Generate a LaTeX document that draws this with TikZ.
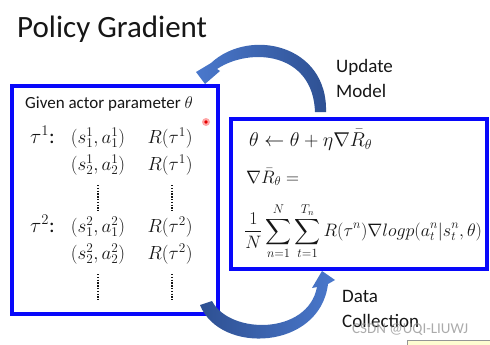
\RequirePackage{fix-cm}
\documentclass[tikz,border=0pt]{standalone}
\usepackage{amsmath,amssymb}
\usepackage[no-math]{fontspec}
\setmainfont{Carlito}
\definecolor{panelblue}{RGB}{8,8,250}
\definecolor{arrowdark}{RGB}{46,80,146}
\definecolor{arrowlight}{RGB}{74,120,204}
\definecolor{ink}{RGB}{22,22,22}
\definecolor{stampgray}{RGB}{150,150,150}
\tikzset{
  panel/.style={draw=panelblue, line width=4pt, fill=white, inner sep=0pt},
  label/.style={text=ink, font=\fontsize{19}{23}\selectfont, anchor=base west, inner sep=0pt},
  entry/.style={text=ink, font=\fontsize{19}{23}\selectfont, anchor=base, inner sep=0pt},
  dotcol/.style={ink, line width=1.8pt, dash pattern=on 1.3pt off 1.5pt},
}

\begin{document}
\begin{tikzpicture}[x=1pt, y=-1pt]
  \useasboundingbox (0,0) rectangle (490,345);
  % ===================== title =====================
  \node[label, font=\fontsize{31}{37}\selectfont] (title) at (17,38) {Policy Gradient};
  % ===================== actor box =====================
  \node[panel, minimum width=206pt, minimum height=228pt] (actor) at (115,200) {};
  \node[label, font=\fontsize{17}{20}\selectfont] (given) at (25,108) {Given actor parameter $\theta$};
  \node[entry, anchor=base west, font=\fontsize{21}{25}\selectfont] (tau1) at (30,143) {$\tau^{1}$:};
  \node[entry] (p11) at (98,143) {$(s_1^1,a_1^1)$};
  \node[entry] (r11) at (170,143) {$R(\tau^1)$};
  \node[entry] (p12) at (98,170) {$(s_2^1,a_2^1)$};
  \node[entry] (r12) at (170,170) {$R(\tau^1)$};
  \draw[dotcol] (98,185) -- (98,211);
  \draw[dotcol] (172,185) -- (172,211);
  \node[entry, anchor=base west, font=\fontsize{21}{25}\selectfont] (tau2) at (30,232) {$\tau^{2}$:};
  \node[entry] (p21) at (98,232) {$(s_1^2,a_1^2)$};
  \node[entry] (r21) at (170,232) {$R(\tau^2)$};
  \node[entry] (p22) at (98,259) {$(s_2^2,a_2^2)$};
  \node[entry] (r22) at (170,259) {$R(\tau^2)$};
  \draw[dotcol] (98,274) -- (98,300);
  \draw[dotcol] (172,274) -- (172,300);
  \fill[red!35] (206,122) circle (4pt);
  \fill[red!90!black] (206,122) circle (1.8pt);
  % ===================== update box =====================
  \node[panel, minimum width=256pt, minimum height=150pt] (update) at (359,194) {};
  \node[entry, anchor=base west, font=\fontsize{20}{24}\selectfont] (rule) at (249,146)
    {$\theta \leftarrow \theta + \eta\nabla\bar{R}_\theta$};
  \node[entry, anchor=base west, font=\fontsize{18}{22}\selectfont] (gradl) at (246,183) {$\nabla\bar{R}_\theta =$};
  \node[entry, anchor=west, font=\fontsize{18}{22}\selectfont] (gradr) at (244,231)
    {$\displaystyle\frac{1}{N}\sum_{n=1}^{N}\sum_{t=1}^{T_n}R(\tau^n)\nabla logp(a_t^n|s_t^n,\theta)$};
  % ===================== loop arrows =====================
  \shade[left color=arrowlight, right color=arrowdark]
    (326,112) .. controls (328,45) and (250,27) .. (211,63)
    -- (196,72) -- (205,84) -- (220,71) -- (217,69)
    .. controls (250,47) and (313,52) .. (315,112) -- cycle;
  \shade[left color=arrowdark, right color=arrowlight]
    (200,305) .. controls (220,355) and (320,350) .. (328,284)
    -- (335,280) -- (322,271) -- (312,288) -- (317,287)
    .. controls (308,335) and (230,335) .. (212,301) -- cycle;
  \node[label, font=\fontsize{19}{24}\selectfont] (upd) at (336,73) {Update};
  \node[label, font=\fontsize{19}{24}\selectfont] (model) at (336,97) {Model};
  \node[label, font=\fontsize{19}{24}\selectfont] (data) at (342,302) {Data};
  \node[label, font=\fontsize{19}{24}\selectfont] (coll) at (342,327) {Collection};
  % ===================== screen leftovers =====================
  \node[label, text=stampgray, opacity=0.8, font=\fontsize{15}{18}\selectfont] (stamp) at (352,333) {CSDN @UQI-LIUWJ};
  \fill[yellow!18] (407,340) rectangle (490,345);
  \draw[stampgray, thin] (407,345) |- (490,340);
\end{tikzpicture}
\end{document}
